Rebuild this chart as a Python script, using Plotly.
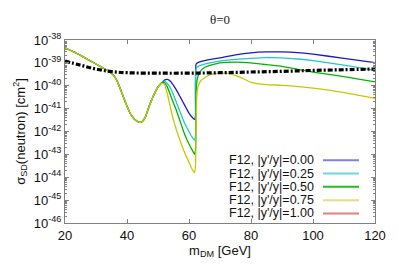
import plotly.graph_objects as go

# ---- data (log10 of sigma_SD in cm^2) ----
m_common = [20, 22, 24, 26, 28, 30, 32, 34, 35, 36, 37, 38, 39, 40, 41, 42, 43, 44, 44.5, 45, 46, 47, 48, 49, 50, 51]
logs_common = [-38.34, -38.47, -38.6, -38.75, -38.9, -39.05, -39.2, -39.35, -39.45, -39.6, -39.85, -40.2, -40.55, -40.9, -41.2, -41.4, -41.53, -41.6, -41.6, -41.55, -41.35, -40.95, -40.6, -40.3, -40.05, -39.9]

m_blue = [52, 53, 54, 55, 56, 57, 58, 59, 60, 61, 61.8, 62.1, 62.3, 63, 65, 70, 75, 80, 85, 90, 95, 100, 110, 120]
log_blue = [-39.76, -39.72, -39.8, -39.98, -40.2, -40.45, -40.7, -40.95, -41.2, -41.38, -41.47, -41.3, -39.05, -38.98, -38.9, -38.78, -38.65, -38.56, -38.52, -38.52, -38.55, -38.62, -38.8, -38.99]

m_cyan = [52, 53, 54, 55, 56, 57, 58, 59, 60, 61, 61.8, 62.1, 62.3, 63, 65, 70, 75, 80, 85, 90, 95, 100, 110, 120]
log_cyan = [-39.8, -39.9, -40.1, -40.4, -40.75, -41.1, -41.45, -41.75, -42.0, -42.25, -42.38, -42.2, -39.25, -39.15, -39.05, -38.92, -38.85, -38.8, -38.77, -38.78, -38.83, -38.9, -39.1, -39.33]

m_green = [52, 53, 54, 55, 56, 57, 58, 59, 60, 61, 61.8, 62.1, 62.3, 62.7, 63.5, 65, 70, 75, 80, 85, 90, 95, 100, 110, 120]
log_green = [-39.85, -40.05, -40.4, -40.75, -41.1, -41.5, -41.9, -42.25, -42.55, -42.8, -43.0, -42.8, -40.2, -39.7, -39.4, -39.2, -39.0, -38.97, -39.0, -39.08, -39.15, -39.28, -39.4, -39.6, -39.83]

m_yellow = [52, 53, 54, 55, 56, 57, 58, 59, 60, 61, 61.8, 62.1, 62.3, 62.6, 63, 64, 67, 72, 76, 80, 85, 90, 100, 110, 120]
log_yellow = [-39.92, -40.35, -40.95, -41.5, -41.95, -42.35, -42.72, -43.05, -43.35, -43.65, -43.8, -43.5, -41.5, -40.3, -40.0, -39.75, -39.5, -39.45, -39.6, -39.85, -39.95, -39.98, -40.1, -40.3, -40.55]

m_limit = [20, 25, 30, 35, 40, 50, 60, 70, 80, 90, 100, 110, 120]
log_limit = [-38.92, -39.1, -39.27, -39.38, -39.43, -39.45, -39.45, -39.43, -39.4, -39.37, -39.33, -39.3, -39.27]

legend_labels = ["F12, |y'/y|=0.00", "F12, |y'/y|=0.25", "F12, |y'/y|=0.50", "F12, |y'/y|=0.75", "F12, |y'/y|=1.00"]
line_colors = ["#1a1ac8", "#22c8c8", "#00b400", "#c8c800", "#e03030"]
legend_colors = ["#8080e0", "#70d8d8", "#20c020", "#e0e080", "#e08080"]

y_tick_exps = [-46, -45, -44, -43, -42, -41, -40, -39, -38]
x_ticks = [20, 40, 60, 80, 100, 120]

# ---- figure ----
fig = go.Figure()
series = [(m_blue, log_blue), (m_cyan, log_cyan), (m_green, log_green), (m_yellow, log_yellow)]
for (mx, ly), col in zip(series, line_colors[:4]):
    xs = m_common + mx
    ys = [10 ** v for v in logs_common + ly]
    fig.add_trace(go.Scatter(x=xs, y=ys, mode="lines", line=dict(color=col, width=1.3, shape="spline", smoothing=0.5),
                             showlegend=False, hoverinfo="skip"))

fig.add_trace(go.Scatter(x=m_limit, y=[10 ** v for v in log_limit], mode="lines",
                         line=dict(color="#000000", width=3.2, dash="5px,2px,2px,2px", shape="spline"),
                         showlegend=False, hoverinfo="skip"))

font_main = "Liberation Sans, Arial, sans-serif"

fig.update_layout(
    width=399, height=279,
    margin=dict(l=65, r=24, t=40, b=56, autoexpand=False),
    paper_bgcolor="white", plot_bgcolor="white",
    showlegend=False,
    title=dict(text="θ=0", x=0.5, xref="paper", y=0.93, yanchor="middle",
               font=dict(family="Liberation Serif, Times New Roman, serif", size=13, color="#222")),
    font=dict(family=font_main, size=13, color="#111"),
)

fig.update_xaxes(
    range=[20, 120], tickvals=x_ticks, ticktext=[str(v) for v in x_ticks],
    ticks="inside", ticklen=4, tickcolor="#808080", showline=True, linecolor="#808080", linewidth=1,
    mirror="ticks", showgrid=False, zeroline=False,
    title=dict(text="m<sub>DM</sub> [GeV]", font=dict(size=13), standoff=1),
    tickfont=dict(size=13),
)
fig.update_yaxes(
    type="log", range=[-46, -38],
    tickvals=[10 ** e for e in y_tick_exps],
    ticktext=["10<sup>%d</sup>" % e for e in y_tick_exps],
    ticks="inside", ticklen=4, tickcolor="#808080", showline=True, linecolor="#808080", linewidth=1,
    mirror="ticks", showgrid=False, zeroline=False,
    minor=dict(ticks="inside", ticklen=2, tickcolor="#808080", dtick="D1", showgrid=False),
    title=dict(text="σ<sub>SD</sub>(neutron) [cm<sup>2</sup>]", font=dict(size=13), standoff=5),
    tickfont=dict(size=13),
)

# manual legend (text right-aligned, sample line at right)
px_l, px_r, px_t, px_b = 65, 375, 40, 222.7
def xp(px):
    return (px - px_l) / (px_r - px_l)
def yp(py):
    return (px_b - py) / (px_b - px_t)

leg_y = [160, 173.3, 186.6, 199.9, 213.2]
for lab, col, py in zip(legend_labels, legend_colors, leg_y):
    fig.add_annotation(x=xp(316), y=yp(py), xref="paper", yref="paper", text=lab, showarrow=False,
                       xanchor="right", yanchor="middle", font=dict(size=12.5, family=font_main, color="#111"))
    fig.add_shape(type="line", xref="paper", yref="paper", x0=xp(323), x1=xp(359), y0=yp(py), y1=yp(py),
                  line=dict(color=col, width=2))

fig.write_html("out.html", config={"displayModeBar": False},
               post_script="document.body.style.margin='0';")
